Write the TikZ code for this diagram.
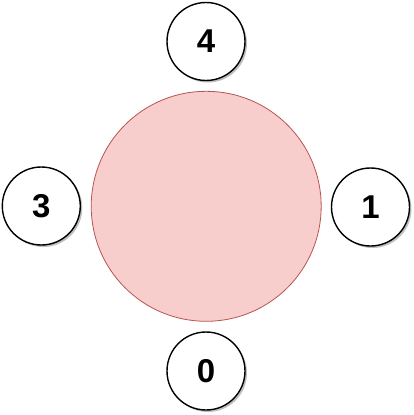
\documentclass[tikz,border=0pt]{standalone}
\usepackage{fontspec}
\setmainfont{Liberation Sans}
\usepackage{tikz}
\usetikzlibrary{shadows}
\definecolor{ringFill}{HTML}{F8CECC}
\definecolor{ringLine}{HTML}{B85450}

\begin{document}
\begin{tikzpicture}[x=1pt,y=-1pt,
    seat/.style={circle,draw=black,line width=1.4pt,fill=white,minimum size=78pt,inner sep=0pt,
      font=\fontsize{33}{33}\selectfont\bfseries,
      drop shadow={shadow xshift=2pt,shadow yshift=-2pt,opacity=0.25,fill=black}},
    table/.style={circle,draw=ringLine,line width=0.8pt,fill=ringFill,minimum size=230pt,inner sep=0pt}]
  \useasboundingbox (0,0) rectangle (414,415);
  \node[table] (round) at (206.2,206.3) {};
  % seats round the table
  \node[seat] (s4) at (206,41.5) {4};
  \node[seat] (s3) at (41.3,206) {3};
  \node[seat] (s1) at (370.5,207) {1};
  \node[seat] (s0) at (206,371) {0};
\end{tikzpicture}
\end{document}
